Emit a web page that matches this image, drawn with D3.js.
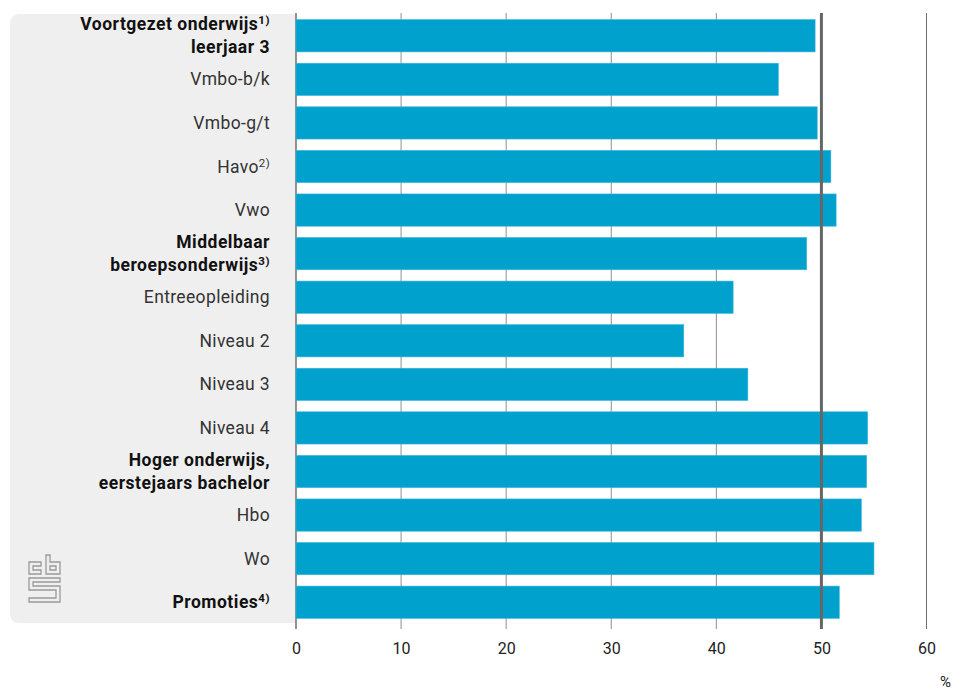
<!DOCTYPE html>
<html>
<head>
<meta charset="utf-8">
<script src="https://cdn.jsdelivr.net/npm/d3@7"></script>
<style>
  html, body { margin: 0; padding: 0; background: #fff; }
  svg { display: block; }
  text { font-family: Roboto, "Noto Sans", sans-serif; }
</style>
</head>
<body>
<svg id="chart" width="961" height="691"></svg>
<script>
// ---- data ----
const categories = [
  ["Voortgezet onderwijs|1)", "leerjaar 3"],
  ["Vmbo-b/k"],
  ["Vmbo-g/t"],
  ["Havo|2)"],
  ["Vwo"],
  ["Middelbaar", "beroepsonderwijs|3)"],
  ["Entreeopleiding"],
  ["Niveau 2"],
  ["Niveau 3"],
  ["Niveau 4"],
  ["Hoger onderwijs,", "eerstejaars bachelor"],
  ["Hbo"],
  ["Wo"],
  ["Promoties|4)"]
];
const isHeader = [true, false, false, false, false, true, false, false, false, false, true, false, false, true];
const values = [49.4, 45.9, 49.6, 50.9, 51.4, 48.6, 41.6, 36.9, 43.0, 54.4, 54.3, 53.8, 55.0, 51.7];
const tickValues = [0, 10, 20, 30, 40, 50, 60];
const referenceValue = 50;
const unitLabel = "%";

// ---- layout ----
const svg = d3.select("#chart");
const x = d3.scaleLinear().domain([0, 60]).range([296, 926.5]);
const y = d3.scaleBand().domain(d3.range(categories.length)).range([14, 624])
  .paddingInner(0.26).paddingOuter(0.13);

// grey label panel
const panelLeft = 10, panelTop = 14, panelBottom = 623, r = 10;
svg.append("path")
  .attr("d", `M${x(0)},${panelTop} H${panelLeft + r} Q${panelLeft},${panelTop} ${panelLeft},${panelTop + r} V${panelBottom - r} Q${panelLeft},${panelBottom} ${panelLeft + r},${panelBottom} H${x(0)} Z`)
  .attr("fill", "#efefef");

// logo
const logo = svg.append("g").attr("fill", "none").attr("stroke", "#9a9a9a").attr("stroke-width", 1.3);
logo.append("path").attr("d", "M29,562 H41 V566 H33 V570 H41 V574 H29 Z");
logo.append("path").attr("d", "M46,555 H50 V562 H60 V574 H46 Z");
logo.append("path").attr("d", "M50,566 H56 V570 H50 Z");
logo.append("path").attr("d", "M29,578 H60 V582 H33 V586 H60 V602 H29 V598 H56 V590 H29 Z");

// gridlines behind bars
svg.append("g").selectAll("line")
  .data(tickValues.filter(d => d > 0 && d < 50))
  .join("line")
  .attr("x1", d => x(d)).attr("x2", d => x(d))
  .attr("y1", 13).attr("y2", 629)
  .attr("stroke", "#8f8f8f").attr("stroke-width", 1);
svg.append("line")
  .attr("x1", x(60)).attr("x2", x(60)).attr("y1", 13).attr("y2", 629)
  .attr("stroke", "#707070").attr("stroke-width", 1);
// axis line at 0
svg.append("line")
  .attr("x1", x(0)).attr("x2", x(0)).attr("y1", 13).attr("y2", 629)
  .attr("stroke", "#707070").attr("stroke-width", 1.5);

// bars
svg.append("g").selectAll("rect")
  .data(values)
  .join("rect")
  .attr("x", x(0))
  .attr("y", (d, i) => y(i))
  .attr("width", d => x(d) - x(0))
  .attr("height", y.bandwidth())
  .attr("fill", "#00a1cd")
  .attr("stroke", "#3db5da").attr("stroke-width", 0.6);

// reference line at 50
svg.append("line")
  .attr("x1", x(referenceValue)).attr("x2", x(referenceValue))
  .attr("y1", 13).attr("y2", 629)
  .attr("stroke", "#666").attr("stroke-width", 3);

// x tick labels
const xAxis = d3.axisBottom(x).tickValues(tickValues).tickSize(0).tickPadding(0).tickFormat(d3.format("d"));
const gx = svg.append("g").attr("transform", "translate(0,643)").call(xAxis);
gx.select(".domain").remove();
gx.selectAll("text").attr("font-size", 16).attr("fill", "#222")
  .attr("font-family", "Roboto, sans-serif").attr("dy", "0.71em").attr("y", 0);
svg.append("text").attr("x", 951).attr("y", 687).attr("text-anchor", "end")
  .attr("font-size", 15).attr("fill", "#222").text(unitLabel);

// category labels
const labelX = 270;
const lg = svg.append("g");
categories.forEach((lines, i) => {
  const cy = y(i) + y.bandwidth() / 2;
  const n = lines.length;
  lines.forEach((line, j) => {
    const parts = line.split("|");
    const t = lg.append("text")
      .attr("x", labelX)
      .attr("y", cy + (j - (n - 1) / 2) * 23 + 6)
      .attr("text-anchor", "end")
      .attr("font-size", 17.5)
      .attr("letter-spacing", isHeader[i] ? 0.5 : 0.35)
      .attr("font-weight", isHeader[i] ? 700 : 400)
      .attr("fill", isHeader[i] ? "#111" : "#333");
    t.append("tspan").text(parts[0]);
    if (parts[1]) {
      t.append("tspan").attr("font-size", 11.5).attr("dy", -6).text(parts[1]);
    }
  });
});
</script>
</body>
</html>
